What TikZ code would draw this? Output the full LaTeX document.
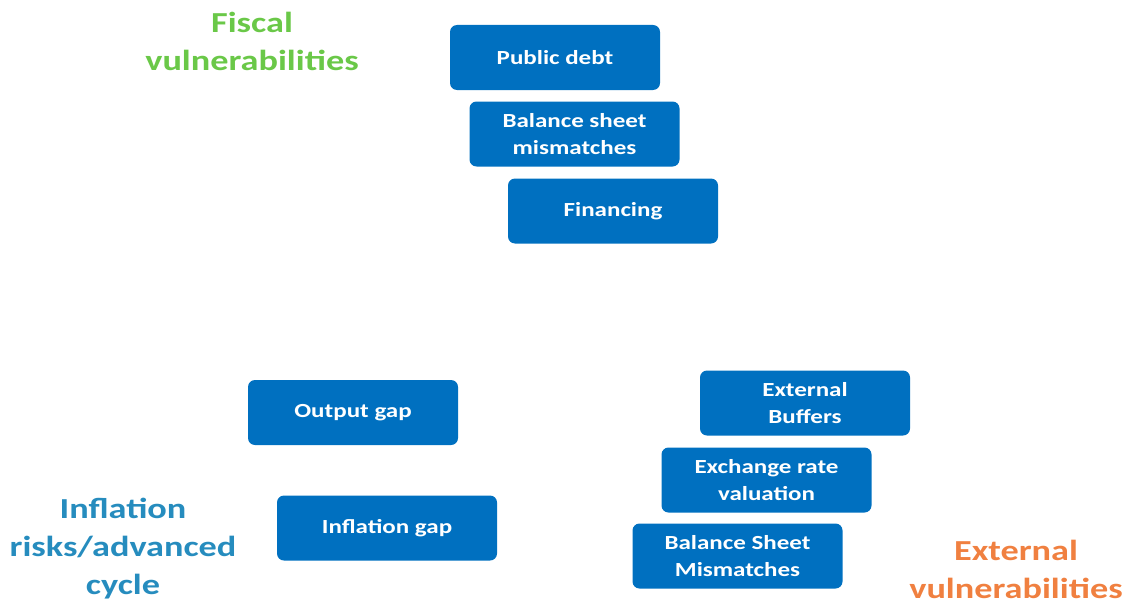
\documentclass[tikz,border=0pt]{standalone}
\usepackage{fontspec}
\setmainfont{Carlito}[FakeStretch=1.25]
\definecolor{boxblue}{RGB}{0,112,192}
\definecolor{fiscalgreen}{RGB}{106,200,72}
\definecolor{inflblue}{RGB}{38,140,190}
\definecolor{extorange}{RGB}{240,128,64}
\begin{document}
\begin{tikzpicture}[x=1pt,y=-1pt,
  item/.style={fill=boxblue,rounded corners=7pt,minimum width=210pt,minimum height=65pt,
    text=white,font=\fontsize{20}{27}\selectfont\bfseries,align=center,inner sep=0pt},
  group/.style={font=\fontsize{29}{38}\selectfont\bfseries,align=center,inner sep=0pt}]
\useasboundingbox (0,0) rectangle (1132,610);
% fiscal side
\node[group,text=fiscalgreen] (fiscal) at (252,41) {Fiscal\\vulnerabilities};
\node[item] (debt) at (555,57.5) {Public debt};
\node[item] (bsm) at (574.5,134) {Balance sheet\\mismatches};
\node[item] (fin) at (613,211) {Financing};
% inflation side
\node[item] (ogap) at (353,412.5) {Output gap};
\node[item,minimum width=220pt] (igap) at (387,528) {Inflation gap};
\node[group,text=inflblue] (infl) at (123,549) {Inflation\\risks/advanced\\cycle};
% external side
\node[item] (buf) at (805,403) {External\\Buffers};
\node[item] (exr) at (766.5,480) {Exchange rate\\valuation};
\node[item] (bsx) at (737.5,556) {Balance Sheet\\Mismatches};
\node[group,text=extorange] (ext) at (1016,569) {External\\vulnerabilities};
\end{tikzpicture}
\end{document}
